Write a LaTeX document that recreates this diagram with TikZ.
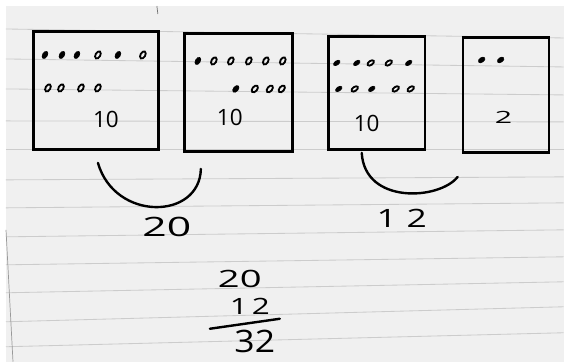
\documentclass[tikz,border=0pt]{standalone}
\usepackage{fontspec}
\setmainfont{Open Sans}
\usetikzlibrary{positioning, calc}
\begin{document}
\begin{tikzpicture}[
  x=0.05cm, y=-0.05cm, font=\fontsize{32}{36}\selectfont,
  box/.style={draw, line width=4pt, rectangle, inner sep=0pt, anchor=north west},
  dot/.style={fill=black, draw=black, line width=1pt},
  ring/.style={draw=black, line width=2.6pt},
  rule/.style={draw=black!20, line width=1.2pt},
  brace/.style={line width=3.4pt, line cap=round},
  big/.style={font=\fontsize{38}{42}\selectfont}
]
% paper
\fill[white] (0,0) rectangle (564,362);
\fill[black!6] (6,6) rectangle (564,362);
\foreach \l/\r in {29/38, 59/67, 89/95, 121/122, 150/150, 180/177, 208/203,
                   237/230, 265/257, 293/282, 322/307, 347/333}
  \draw[rule] (6,\l) -- (564,\r);
\draw[black!40, line width=1pt] (6,230) -- (13,362);
\draw[black!55, line width=1pt] (157,6) -- (158,14);

% the four boxes
\node[box, minimum width=6.25cm, minimum height=5.9cm] (box1) at (32,30) {};
\node[box, minimum width=5.4cm, minimum height=5.9cm] (box2) at (183,32) {};
\node[box, minimum width=4.85cm, minimum height=5.65cm] (box3) at (327,35) {};
\node[box, minimum width=4.3cm, minimum height=5.75cm] (box4) at (462,36) {};

% dots
\foreach \x/\s in {45/dot, 62/dot, 77/dot, 98/ring, 118/dot, 143/ring}
  \path[\s, rotate around={-30:(\x,55)}] (\x,55) ellipse [x radius=3.4pt, y radius=5.6pt];
\foreach \x/\s in {48/ring, 61/ring, 81/ring, 98/ring}
  \path[\s, rotate around={-30:(\x,88)}] (\x,88) ellipse [x radius=3.4pt, y radius=5.6pt];
\foreach \x/\s in {198/dot, 214/ring, 231/ring, 249/ring, 266/ring, 283/ring}
  \path[\s, rotate around={-30:(\x,61)}] (\x,61) ellipse [x radius=3.4pt, y radius=5.6pt];
\foreach \x/\s in {236/dot, 255/ring, 270/ring, 282/ring}
  \path[\s, rotate around={-40:(\x,89)}] (\x,89) ellipse [x radius=3.4pt, y radius=5.6pt];
\foreach \x/\s in {337/dot, 357/dot, 371/ring, 389/ring, 409/dot}
  \path[\s, rotate around={-55:(\x,63)}] (\x,63) ellipse [x radius=2.9pt, y radius=5.2pt];
\foreach \x/\s in {339/dot, 355/ring, 372/dot, 396/ring, 411/ring}
  \path[\s, rotate around={-55:(\x,89)}] (\x,89) ellipse [x radius=2.9pt, y radius=5.2pt];
\foreach \x in {482, 501}
  \path[dot, rotate around={-55:(\x,60)}] (\x,60) ellipse [x radius=3.2pt, y radius=5.2pt];

% counts in the boxes
\node (ten1) at (106,120) {10};
\node (ten2) at (230,118) {10};
\node (ten3) at (367,124) {10};
\node[xscale=1.8, font=\fontsize{24}{26}\selectfont] (two) at (504,117) {2};

% grouping curves
\coordinate (g1l) at (98,163);
\coordinate (g1r) at (201,169);
\coordinate (g2l) at (362,153);
\coordinate (g2r) at (458,177);
\draw[brace] (g1l) .. controls (115,222) and (200,220) .. (g1r);
\draw[brace] (g2l) .. controls (365,205) and (440,200) .. (g2r);
\node[big, xscale=1.6] (sum1) at (167,227) {20};
\node[big, font=\fontsize{36}{40}\selectfont, xscale=1.4] (sum2) at (402,219) {1\kern10pt2};

% adding up
\node[font=\fontsize{34}{38}\selectfont, xscale=1.6] (top) at (240,279) {20};
\node[font=\fontsize{32}{36}\selectfont, xscale=1.4] (mid) at (250,307) {1\kern4pt2};
\coordinate (barl) at (210,329);
\coordinate (barr) at (280,319);
\draw[brace] (barl) -- (barr);
\node[font=\fontsize{44}{48}\selectfont, xscale=1.15] (total) at (255,342) {32};
\end{tikzpicture}
\end{document}
